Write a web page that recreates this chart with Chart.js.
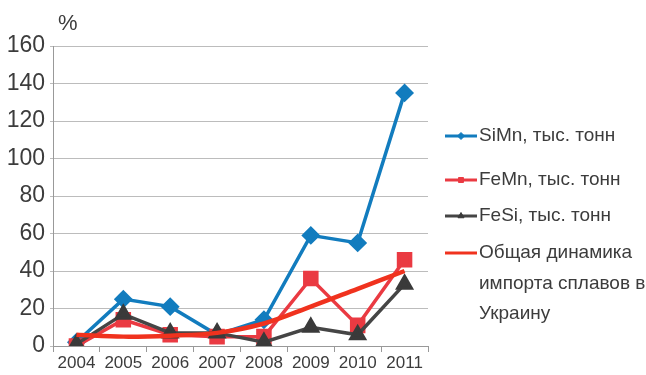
<!DOCTYPE html>
<html>
<head>
<meta charset="utf-8">
<script src="https://cdn.jsdelivr.net/npm/chart.js@4/dist/chart.umd.min.js"></script>
<style>
  html, body { margin: 0; padding: 0; background: #fff; }
  #wrap { width: 646px; height: 375px; }
</style>
</head>
<body>
<div id="wrap"><canvas id="c" width="646" height="375"></canvas></div>
<script>
// Years on the category axis
const years = ['2004', '2005', '2006', '2007', '2008', '2009', '2010', '2011'];
// Import of alloys, %
const siMn = [2, 25, 21, 6, 14, 59, 55, 135];
const feMn = [0, 14, 6, 5, 5, 36, 11, 46];
const feSi = [1, 17, 7, 7, 2, 10, 6, 33];
const total = [6, 5, 5.5, 7, 12, 21, 30.5, 40];
const yTicks = [0, 20, 40, 60, 80, 100, 120, 140, 160];

const seriesNames = ['SiMn, тыс. тонн', 'FeMn, тыс. тонн', 'FeSi, тыс. тонн'];
const totalName = ['Общая динамика', 'импорта сплавов в', 'Украину'];

const FONT = '"Liberation Sans", Arial, sans-serif';
const TEXT = '#3c3c3c';

// Legend and unit label painted next to the plot
const sideLegend = {
  id: 'sideLegend',
  afterDraw(chart) {
    const ctx = chart.ctx;
    ctx.save();
    ctx.fillStyle = TEXT;
    ctx.font = '22px ' + FONT;
    ctx.textBaseline = 'middle';
    ctx.fillText('%', 58, 24);

    const rows = [
      { ds: 1, y: 136 },
      { ds: 2, y: 180 },
      { ds: 3, y: 216 },
      { ds: 0, y: 253 }
    ];
    rows.forEach(r => {
      const d = chart.data.datasets[r.ds];
      ctx.strokeStyle = d.borderColor;
      ctx.lineWidth = 3;
      ctx.beginPath();
      ctx.moveTo(445, r.y);
      ctx.lineTo(477, r.y);
      ctx.stroke();
      if (d.pointStyle && d.pointRadius > 0) {
        ctx.fillStyle = d.pointBackgroundColor;
        ctx.strokeStyle = d.pointBorderColor;
        ctx.lineWidth = 1;
        Chart.helpers.drawPoint(ctx, { pointStyle: d.pointStyle, radius: 3.5, borderWidth: 1, rotation: 0 }, 461, r.y);
      }
      ctx.fillStyle = TEXT;
      ctx.font = '19px ' + FONT;
      const lines = Array.isArray(d.label) ? d.label : [d.label];
      lines.forEach((t, i) => ctx.fillText(t, 479, r.y + i * 30.5));
    });
    ctx.restore();
  }
};

new Chart(document.getElementById('c'), {
  type: 'line',
  data: {
    labels: years,
    datasets: [
      {
        label: totalName,
        data: total,
        borderColor: '#f0321e',
        backgroundColor: '#f0321e',
        borderWidth: 4.5,
        pointRadius: 0,
        pointStyle: false,
        tension: 0.35,
        order: 0
      },
      {
        label: seriesNames[0],
        data: siMn,
        borderColor: '#127cbe',
        backgroundColor: '#127cbe',
        pointBackgroundColor: '#127cbe',
        pointBorderColor: '#127cbe',
        borderWidth: 3.5,
        pointStyle: 'rectRot',
        pointRadius: 7,
        order: 3
      },
      {
        label: seriesNames[1],
        data: feMn,
        borderColor: '#ea3a42',
        backgroundColor: '#ea3a42',
        pointBackgroundColor: '#ea3a42',
        pointBorderColor: '#ea3a42',
        borderWidth: 3.5,
        pointStyle: 'rect',
        pointRadius: 8.5,
        order: 2
      },
      {
        label: seriesNames[2],
        data: feSi,
        borderColor: '#454545',
        backgroundColor: '#454545',
        pointBackgroundColor: '#3a3a3a',
        pointBorderColor: '#3a3a3a',
        borderWidth: 3.5,
        pointStyle: 'triangle',
        pointRadius: 7.5,
        order: 1
      }
    ]
  },
  options: {
    responsive: false,
    animation: false,
    layout: { padding: { left: 0, right: 218, top: 46, bottom: 0 } },
    plugins: { legend: { display: false }, tooltip: { enabled: false } },
    scales: {
      x: {
        offset: true,
        grid: { display: true, offset: true, drawOnChartArea: false, drawTicks: true, tickLength: 6, color: '#999' },
        border: { display: true, color: '#999', width: 1 },
        ticks: { color: TEXT, font: { family: FONT, size: 17 }, padding: 1, maxRotation: 0, autoSkip: false },
        afterFit(s) { s.height = 29; }
      },
      y: {
        min: 0,
        max: 160,
        afterBuildTicks(s) { s.ticks = yTicks.map(v => ({ value: v })); },
        grid: { color: '#bcbcbc', lineWidth: 1, drawTicks: true, tickLength: 3 },
        border: { display: true, color: '#999', width: 1 },
        ticks: { color: TEXT, font: { family: FONT, size: 23 }, padding: 5 },
        afterFit(s) { s.width = 53; }
      }
    }
  },
  plugins: [sideLegend]
});
</script>
</body>
</html>
